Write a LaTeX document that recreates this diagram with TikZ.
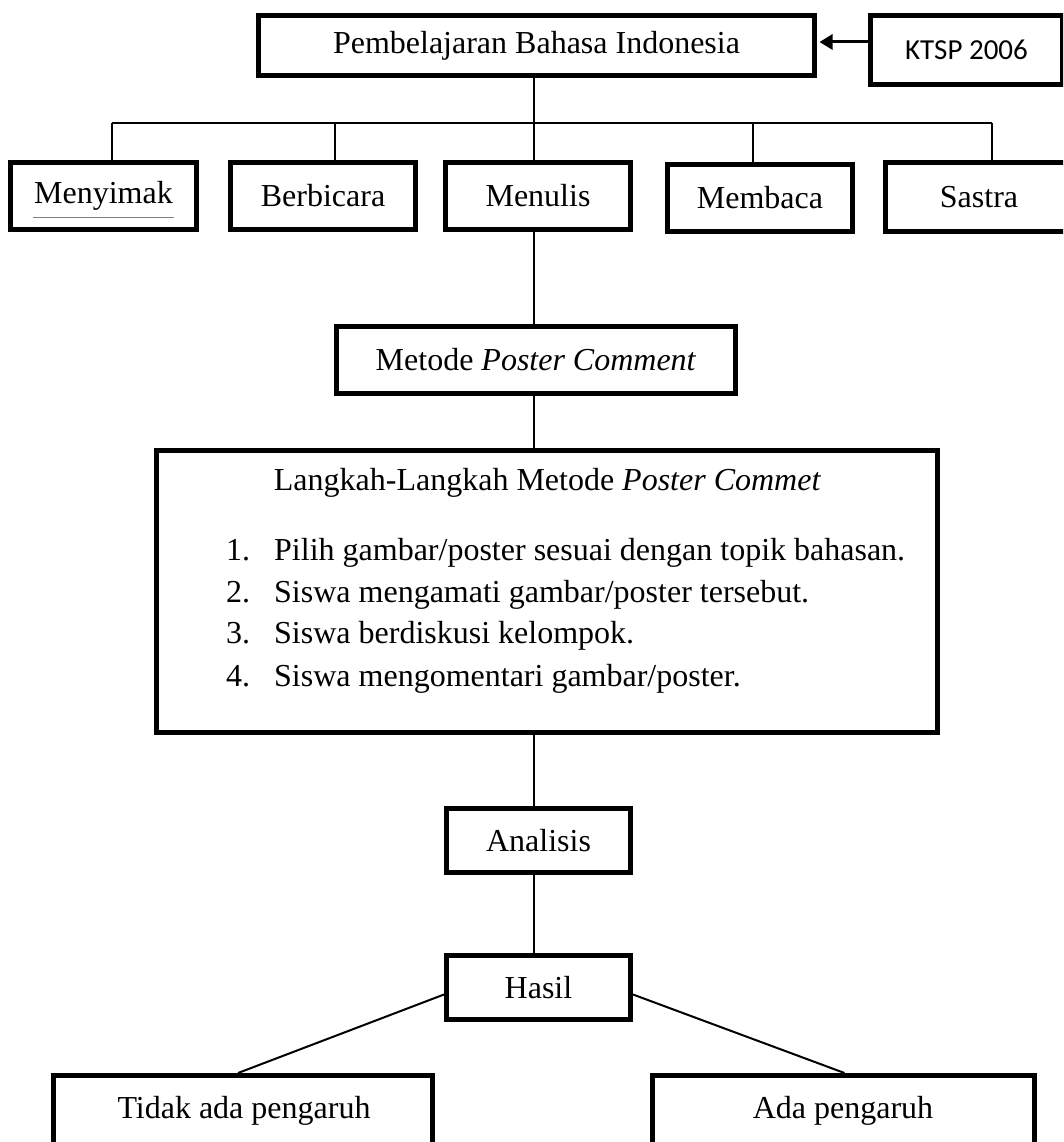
\documentclass[tikz,border=0pt]{standalone}
\usepackage{fontspec}
\setmainfont{Liberation Serif}
\newfontfamily\calibri{Carlito}
\usetikzlibrary{arrows.meta,calc}
\begin{document}
\begin{tikzpicture}[x=1pt,y=-1pt,
  box/.style={draw,line width=5pt,inner sep=0pt,align=center,
    font=\fontsize{32}{38}\selectfont},
  conn/.style={line width=2pt},
  listtxt/.style={anchor=base west,inner sep=0pt,font=\fontsize{32}{38}\selectfont}]
\useasboundingbox (0,0) rectangle (1063,1142);
\clip (0,0) rectangle (1063,1142);
\fill[white] (0,0) rectangle (1063,1142);

% top
\node[box,minimum width=556pt,minimum height=60pt] (top) at (536.5,45.5) {Pembelajaran Bahasa Indonesia};
\node[box,minimum width=192pt,minimum height=69pt,font=\calibri\fontsize{29}{34}\selectfont] (ktsp) at (966.5,50) {KTSP 2006};
\coordinate (arrowy) at (0,42);
\draw[line width=3pt,-{Triangle[length=13pt,width=15pt]}] (ktsp.west |- arrowy) -- ($(top.east |- arrowy)+(2.5,0)$);

% row
\node[box,minimum width=186pt,minimum height=67pt] (menyimak) at (103.5,196) {Menyimak};
\node[box,minimum width=185pt,minimum height=67pt] (berbicara) at (323,196) {Berbicara};
\node[box,minimum width=185pt,minimum height=67pt] (menulis) at (538,196) {Menulis};
\node[box,minimum width=185pt,minimum height=67pt] (membaca) at (760,198) {Membaca};
\node[box,minimum width=187pt,minimum height=69pt] (sastra) at (979,197) {Sastra};
\draw[gray,line width=1pt] (33,217) -- (174,217);

% bus
\coordinate (spine) at (534,123);
\coordinate (b1) at (112,123);
\coordinate (b2) at (335,123);
\coordinate (b4) at (753,123);
\coordinate (b5) at (992,123);
\draw[conn] (top.south -| spine) -- (spine);
\draw[conn] (b1) -- (b5);
\draw[conn] (b1) -- (b1 |- menyimak.north);
\draw[conn] (b2) -- (b2 |- berbicara.north);
\draw[conn] (spine) -- (spine |- menulis.north);
\draw[conn] (b4) -- (b4 |- membaca.north);
\draw[conn] (b5) -- (b5 |- sastra.north);

% metode
\node[box,minimum width=399pt,minimum height=67pt] (metode) at (536,360) {Metode \textit{Poster Comment}};
\draw[conn] (menulis.south -| spine) -- (metode.north -| spine);

% langkah
\node[box,minimum width=781pt,minimum height=282pt] (langkah) at (547,591.5) {};
\node[anchor=base,inner sep=0pt,font=\fontsize{32}{38}\selectfont] (lhead) at (547.5,490) {Langkah-Langkah Metode \textit{Poster Commet}};
\node[listtxt] (n1) at (226,560) {1.};
\node[listtxt] (t1) at (274,560) {Pilih gambar/poster sesuai dengan topik bahasan.};
\node[listtxt] (n2) at (226,602) {2.};
\node[listtxt] (t2) at (274,602) {Siswa mengamati gambar/poster tersebut.};
\node[listtxt] (n3) at (226,643) {3.};
\node[listtxt] (t3) at (274,643) {Siswa berdiskusi kelompok.};
\node[listtxt] (n4) at (226,686) {4.};
\node[listtxt] (t4) at (274,686) {Siswa mengomentari gambar/poster.};
\draw[conn] (metode.south -| spine) -- (langkah.north -| spine);

% analisis, hasil
\node[box,minimum width=184pt,minimum height=64pt] (analisis) at (538.5,840.5) {Analisis};
\node[box,minimum width=184pt,minimum height=64pt] (hasil) at (538.5,987.5) {Hasil};
\draw[conn] (langkah.south -| spine) -- (analisis.north -| spine);
\draw[conn] (analisis.south -| spine) -- (hasil.north -| spine);

% outcomes
\node[box,minimum width=379pt,minimum height=83pt] (tidak) at (243,1117) {};
\node[box,minimum width=382pt,minimum height=83pt] (ada) at (843.5,1117) {};
\node[anchor=base,inner sep=0pt,font=\fontsize{32}{38}\selectfont] (ttxt) at (244,1118) {Tidak ada pengaruh};
\node[anchor=base,inner sep=0pt,font=\fontsize{32}{38}\selectfont] (atxt) at (843,1118) {Ada pengaruh};
\draw[conn] ($(hasil.west)+(0,7)$) -- ($(tidak.north)+(-5,0)$);
\draw[conn] ($(hasil.east)+(0,7)$) -- ($(ada.north)+(1,0)$);
\end{tikzpicture}
\end{document}
